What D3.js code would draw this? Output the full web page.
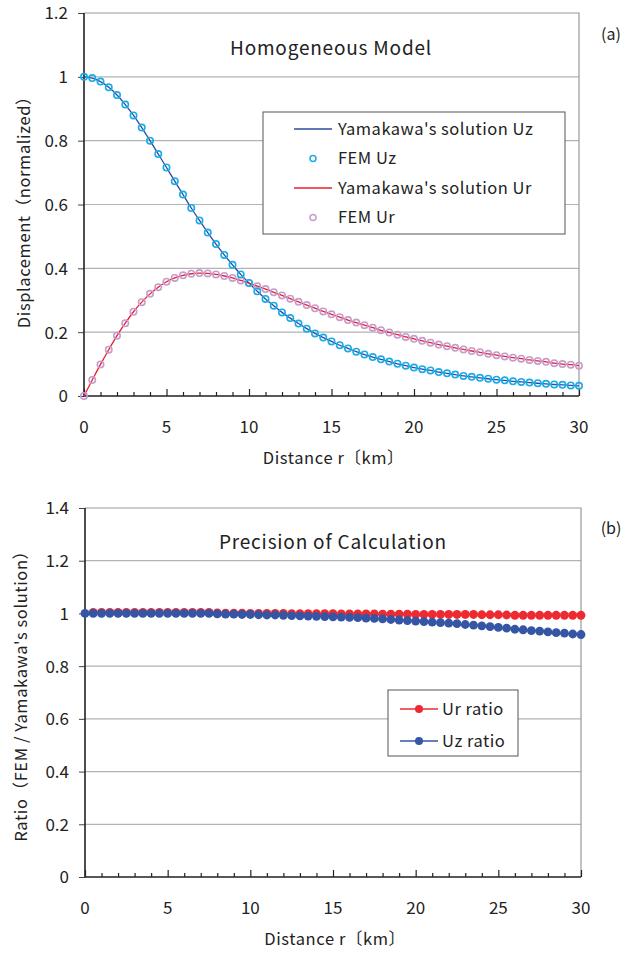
<!DOCTYPE html>
<html>
<head>
<meta charset="utf-8">
<script src="https://cdn.jsdelivr.net/npm/d3@7"></script>
<style>
  body { margin: 0; background: #fff; }
  text { font-family: "Noto Sans CJK JP", "Noto Sans", sans-serif; fill: #222; }
</style>
</head>
<body>
<svg id="chart" width="637" height="955"></svg>
<script>
// sample distances (km), every 0.5 km from 0 to 30
var distance = d3.range(0, 30.001, 0.5);

// panel (a): normalized displacement
var displacementUz = [1.000, 0.996, 0.985, 0.967, 0.943, 0.913, 0.879, 0.841, 0.800, 0.758,
  0.716, 0.673, 0.631, 0.589, 0.550, 0.512, 0.476, 0.442, 0.411, 0.381,
  0.354, 0.328, 0.304, 0.283, 0.262, 0.244, 0.227, 0.211, 0.196, 0.183,
  0.171, 0.159, 0.149, 0.139, 0.130, 0.122, 0.115, 0.108, 0.101, 0.095,
  0.089, 0.084, 0.080, 0.075, 0.071, 0.067, 0.063, 0.060, 0.057, 0.054,
  0.051, 0.049, 0.046, 0.044, 0.042, 0.040, 0.038, 0.036, 0.035, 0.033, 0.032];
var displacementUr = [0.000, 0.050, 0.099, 0.145, 0.189, 0.228, 0.264, 0.294, 0.320, 0.341,
  0.358, 0.370, 0.378, 0.383, 0.385, 0.384, 0.381, 0.376, 0.370, 0.362,
  0.354, 0.344, 0.335, 0.325, 0.315, 0.305, 0.295, 0.285, 0.275, 0.265,
  0.256, 0.247, 0.238, 0.230, 0.222, 0.214, 0.206, 0.199, 0.192, 0.185,
  0.179, 0.173, 0.167, 0.161, 0.156, 0.151, 0.146, 0.141, 0.137, 0.132,
  0.128, 0.124, 0.120, 0.117, 0.113, 0.110, 0.107, 0.103, 0.100, 0.098, 0.095];

// panel (b): FEM / Yamakawa ratio
var ratioUr = [null, 1.004, 1.004, 1.004, 1.004, 1.004, 1.004, 1.004, 1.004, 1.004,
  1.004, 1.004, 1.004, 1.004, 1.004, 1.004, 1.002, 1.001, 1.001, 1.001,
  1.000, 1.000, 1.000, 1.000, 1.000, 0.999, 0.999, 0.999, 0.999, 0.999,
  0.999, 0.998, 0.998, 0.998, 0.998, 0.998, 0.997, 0.997, 0.997, 0.997,
  0.996, 0.996, 0.996, 0.996, 0.996, 0.996, 0.996, 0.996, 0.995, 0.995,
  0.995, 0.994, 0.993, 0.993, 0.993, 0.993, 0.993, 0.993, 0.993, 0.993, 0.993];
var ratioUz = [1.000, 1.000, 1.000, 1.000, 1.000, 1.000, 1.000, 1.000, 1.000, 1.000,
  1.000, 1.000, 1.000, 1.000, 1.000, 1.000, 0.998, 0.997, 0.997, 0.996,
  0.996, 0.995, 0.994, 0.994, 0.993, 0.992, 0.991, 0.990, 0.989, 0.988,
  0.987, 0.986, 0.985, 0.984, 0.982, 0.981, 0.979, 0.977, 0.975, 0.973,
  0.971, 0.969, 0.967, 0.965, 0.963, 0.961, 0.958, 0.956, 0.953, 0.950,
  0.947, 0.944, 0.940, 0.938, 0.935, 0.933, 0.930, 0.927, 0.925, 0.922, 0.920];

var xTicks = [0, 5, 10, 15, 20, 25, 30];
var yTicksA = [0, 0.2, 0.4, 0.6, 0.8, 1, 1.2];
var yTicksB = [0, 0.2, 0.4, 0.6, 0.8, 1, 1.2, 1.4];

var svg = d3.select("#chart");

function pairs(ys) {
  return distance.map(function(d, i) { return [d, ys[i]]; })
    .filter(function(p) { return p[1] != null; });
}

function panel(opt) {
  var x = d3.scaleLinear().domain([0, 30]).range([opt.left, opt.right]);
  var y = d3.scaleLinear().domain([0, opt.yMax]).range([opt.bottom, opt.top]);
  var g = svg.append("g");

  // grid
  g.selectAll("line.grid")
    .data(opt.yTicks.filter(function(t) { return t > 0 && t < opt.yMax; }))
    .enter().append("line")
    .attr("x1", opt.left).attr("x2", opt.right)
    .attr("y1", function(d) { return y(d); }).attr("y2", function(d) { return y(d); })
    .attr("stroke", "#b3b3b3").attr("stroke-width", 1.2);

  // frame: top/right grey
  g.append("path")
    .attr("d", "M" + opt.left + "," + opt.top + "H" + opt.right + "V" + opt.bottom)
    .attr("fill", "none").attr("stroke", "#9a9a9a").attr("stroke-width", 1.2);

  // x axis with minor ticks pointing up
  var xa = d3.axisTop(x).tickValues(d3.range(0, 31, 1))
    .tickSize(0).tickFormat("");
  var gx = g.append("g").attr("transform", "translate(0," + opt.bottom + ")").call(xa);
  gx.select(".domain").remove();
  gx.selectAll(".tick line")
    .attr("y2", function(d) { return d % 5 === 0 ? -7 : -4; })
    .attr("stroke", "#222").attr("stroke-width", 1.2);

  g.selectAll("text.xt").data(xTicks).enter().append("text")
    .attr("x", function(d) { return x(d); })
    .attr("y", opt.bottom + 37)
    .attr("text-anchor", "middle")
    .attr("font-size", 17)
    .text(function(d) { return d; });

  // y axis
  var ya = d3.axisLeft(y).tickValues(opt.yTicks).tickSize(6)
    .tickFormat(function(d) { return d3.format("~g")(d); });
  var gy = g.append("g").attr("transform", "translate(" + opt.left + ",0)").call(ya);
  gy.select(".domain").remove();
  gy.selectAll(".tick line").attr("stroke", "#444");
  gy.selectAll(".tick text")
    .attr("font-size", 17)
    .attr("x", -16)
    .attr("dy", "0.35em")
    .style("font-family", "'Noto Sans CJK JP', 'Noto Sans', sans-serif")
    .attr("fill", "#222");

  // left & bottom axis lines
  g.append("path")
    .attr("d", "M" + opt.left + "," + opt.top + "V" + opt.bottom + "H" + opt.right)
    .attr("fill", "none").attr("stroke", "#222").attr("stroke-width", 1.6);

  // titles
  g.append("text")
    .attr("x", (opt.left + opt.right) / 2 + 2).attr("y", opt.bottom + 68)
    .attr("text-anchor", "middle").attr("font-size", 16.5)
    .attr("letter-spacing", 0.6)
    .text("Distance r〔km〕");

  g.append("text")
    .attr("transform", "translate(" + opt.yTitleX + "," + opt.yTitleY + ") rotate(-90)")
    .attr("text-anchor", "middle").attr("font-size", 16.5)
    .attr("letter-spacing", 0.6)
    .text(opt.yTitle);

  g.append("text")
    .attr("x", opt.titleX).attr("y", opt.titleY)
    .attr("text-anchor", "middle").attr("font-size", 19)
    .attr("letter-spacing", 0.8)
    .text(opt.title);

  g.append("text")
    .attr("x", 611).attr("y", opt.tagY)
    .attr("text-anchor", "middle").attr("font-size", 16)
    .text(opt.tag);

  return { g: g, x: x, y: y };
}

// ---------- panel (a)
var a = panel({
  left: 84, right: 579, top: 13, bottom: 396, yMax: 1.2, yTicks: yTicksA,
  yTitle: "Displacement（normalized）", yTitleX: 30, yTitleY: 208,
  title: "Homogeneous Model", titleX: 331, titleY: 55,
  tag: "(a)", tagY: 40
});

var lineA = d3.line().curve(d3.curveMonotoneX)
  .x(function(d) { return a.x(d[0]); })
  .y(function(d) { return a.y(d[1]); });

var seriesA = [
  { name: "Yamakawa's solution Uz", kind: "line", color: "#2e4a9e", data: displacementUz },
  { name: "FEM Uz", kind: "dot", color: "#19ace6", data: displacementUz },
  { name: "Yamakawa's solution Ur", kind: "line", color: "#ec1c2a", data: displacementUr },
  { name: "FEM Ur", kind: "dot", color: "#c79ccc", data: displacementUr }
];

// lines first, then open circles
seriesA.filter(function(s) { return s.kind === "line"; }).forEach(function(s) {
  a.g.append("path").datum(pairs(s.data))
    .attr("fill", "none").attr("stroke", s.color).attr("stroke-width", 1.3)
    .attr("d", lineA);
});
[seriesA[3], seriesA[1]].forEach(function(s) {
  a.g.selectAll(null).data(pairs(s.data)).enter().append("circle")
    .attr("cx", function(d) { return a.x(d[0]); })
    .attr("cy", function(d) { return a.y(d[1]); })
    .attr("r", 3.2)
    .attr("fill", "none").attr("stroke", s.color).attr("stroke-width", 1.6);
});

// legend (a)
var legA = a.g.append("g").attr("transform", "translate(263,112)");
legA.append("rect").attr("width", 302).attr("height", 122)
  .attr("fill", "#fff").attr("stroke", "#555").attr("stroke-width", 1);
seriesA.forEach(function(s, i) {
  var row = legA.append("g").attr("transform", "translate(0," + (17 + i * 29.5) + ")");
  if (s.kind === "line") {
    row.append("line").attr("x1", 31).attr("x2", 69)
      .attr("stroke", s.color).attr("stroke-width", 1.5);
  } else {
    row.append("circle").attr("cx", 50).attr("r", 3)
      .attr("fill", "none").attr("stroke", s.color).attr("stroke-width", 1.5);
  }
  row.append("text").attr("x", 75).attr("dy", "0.35em")
    .attr("font-size", 16.5).attr("letter-spacing", 0.5).text(s.name);
});

// ---------- panel (b)
var b = panel({
  left: 85, right: 581, top: 508, bottom: 877, yMax: 1.4, yTicks: yTicksB,
  yTitle: "Ratio（FEM / Yamakawa's solution）", yTitleX: 27, yTitleY: 692,
  title: "Precision of Calculation", titleX: 333, titleY: 549,
  tag: "(b)", tagY: 534
});

var seriesB = [
  { name: "Ur ratio", color: "#ee2a30", data: ratioUr },
  { name: "Uz ratio", color: "#3555a5", data: ratioUz }
];

var lineB = d3.line()
  .x(function(d) { return b.x(d[0]); })
  .y(function(d) { return b.y(d[1]); });

seriesB.forEach(function(s) {
  var pts = pairs(s.data);
  b.g.append("path").datum(pts)
    .attr("fill", "none").attr("stroke", s.color).attr("stroke-width", 1.2)
    .attr("d", lineB);
  b.g.selectAll(null).data(pts).enter().append("circle")
    .attr("cx", function(d) { return b.x(d[0]); })
    .attr("cy", function(d) { return b.y(d[1]); })
    .attr("r", 4.4)
    .attr("fill", s.color);
});

var legB = b.g.append("g").attr("transform", "translate(388,690)");
legB.append("rect").attr("width", 130).attr("height", 66)
  .attr("fill", "#fff").attr("stroke", "#555").attr("stroke-width", 1);
seriesB.forEach(function(s, i) {
  var row = legB.append("g").attr("transform", "translate(0," + (19 + i * 32) + ")");
  row.append("line").attr("x1", 12).attr("x2", 50)
    .attr("stroke", s.color).attr("stroke-width", 1.5);
  row.append("circle").attr("cx", 31).attr("r", 4).attr("fill", s.color);
  row.append("text").attr("x", 54).attr("dy", "0.35em")
    .attr("font-size", 16.5).attr("letter-spacing", 0.5).text(s.name);
});
</script>
</body>
</html>
